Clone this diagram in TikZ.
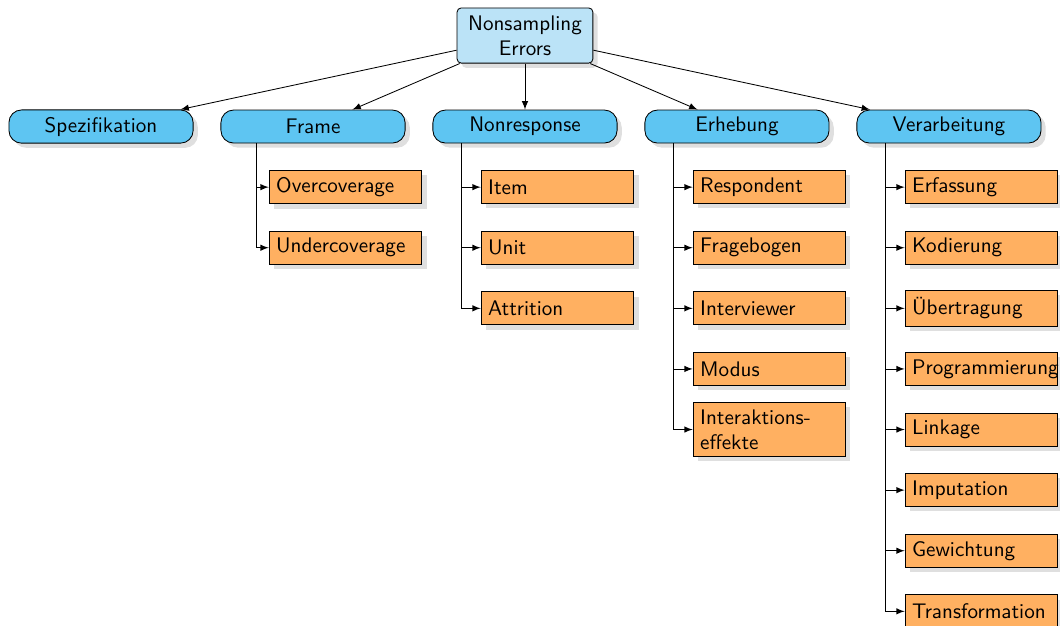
\documentclass[tikz,border=0pt]{standalone}
\usepackage{fontspec}
\usepackage{xcolor}
\usepackage{tikz}
\usetikzlibrary{shapes.geometric, arrows, positioning, shadows}
\renewcommand{\familydefault}{\sfdefault}
\definecolor{topblue}{RGB}{187,227,247}
\definecolor{catblue}{RGB}{94,197,242}
\definecolor{suborange}{RGB}{255,176,97}

\begin{document}
\begin{tikzpicture}[node distance=1.01cm, >=latex,
  topbox/.style={rectangle, draw, fill=topblue, rounded corners=2pt, text width=2.03cm, align=center, minimum height=0.92cm, drop shadow={opacity=0.25}},
  catbox/.style={rectangle, draw, fill=catblue, rounded corners=6pt, minimum width=3.07cm, minimum height=0.55cm, drop shadow={opacity=0.25}},
  subbox/.style={rectangle, draw, fill=suborange, text width=2.31cm, align=left, minimum height=0.55cm, drop shadow={opacity=0.25}}]
\useasboundingbox (0,0) rectangle (17.667,-10.433);

\node (nse) [topbox] at (8.75,-0.592) {Nonsampling\\Errors};

% categories
\node (nonresp) [catbox, below of=nse, node distance=1.517cm] {Nonresponse};
\node (frame) [catbox, left of=nonresp, node distance=3.533cm] {Frame};
\node (spez) [catbox, left of=frame, node distance=3.533cm] {Spezifikation};
\node (erheb) [catbox, right of=nonresp, node distance=3.533cm] {Erhebung};
\node (verarb) [catbox, right of=erheb, node distance=3.533cm] {Verarbeitung};

\foreach \c in {spez, frame, nonresp, erheb, verarb}
  \draw[->] (nse) -- (\c);

% Frame
\node (over) [subbox, below of=frame, xshift=0.542cm] {Overcoverage};
\node (under) [subbox, below of=over] {Undercoverage};

% Nonresponse
\node (item) [subbox, below of=nonresp, xshift=0.542cm] {Item};
\node (unit) [subbox, below of=item] {Unit};
\node (attr) [subbox, below of=unit] {Attrition};

% Erhebung
\node (resp) [subbox, below of=erheb, xshift=0.542cm] {Respondent};
\node (frage) [subbox, below of=resp] {Fragebogen};
\node (interv) [subbox, below of=frage] {Interviewer};
\node (modus) [subbox, below of=interv] {Modus};
\node (inter) [subbox, below of=modus] {Interaktions-\\effekte};

% Verarbeitung
\node (erf) [subbox, below of=verarb, xshift=0.542cm] {Erfassung};
\node (kod) [subbox, below of=erf] {Kodierung};
\node (uebert) [subbox, below of=kod] {Übertragung};
\node (prog) [subbox, below of=uebert] {Programmierung};
\node (link) [subbox, below of=prog] {Linkage};
\node (imput) [subbox, below of=link] {Imputation};
\node (gew) [subbox, below of=imput] {Gewichtung};
\node (trans) [subbox, below of=gew] {Transformation};

\foreach \c in {over, under}
  \draw[->] ([xshift=0.6cm]frame.south west) |- (\c.west);
\foreach \p/\c in {nonresp/item, nonresp/unit, nonresp/attr,
    erheb/resp, erheb/frage, erheb/interv, erheb/modus, erheb/inter,
    verarb/erf, verarb/kod, verarb/uebert, verarb/prog, verarb/link, verarb/imput, verarb/gew, verarb/trans}
  \draw[->] ([xshift=0.483cm]\p.south west) |- (\c.west);
\end{tikzpicture}
\end{document}
